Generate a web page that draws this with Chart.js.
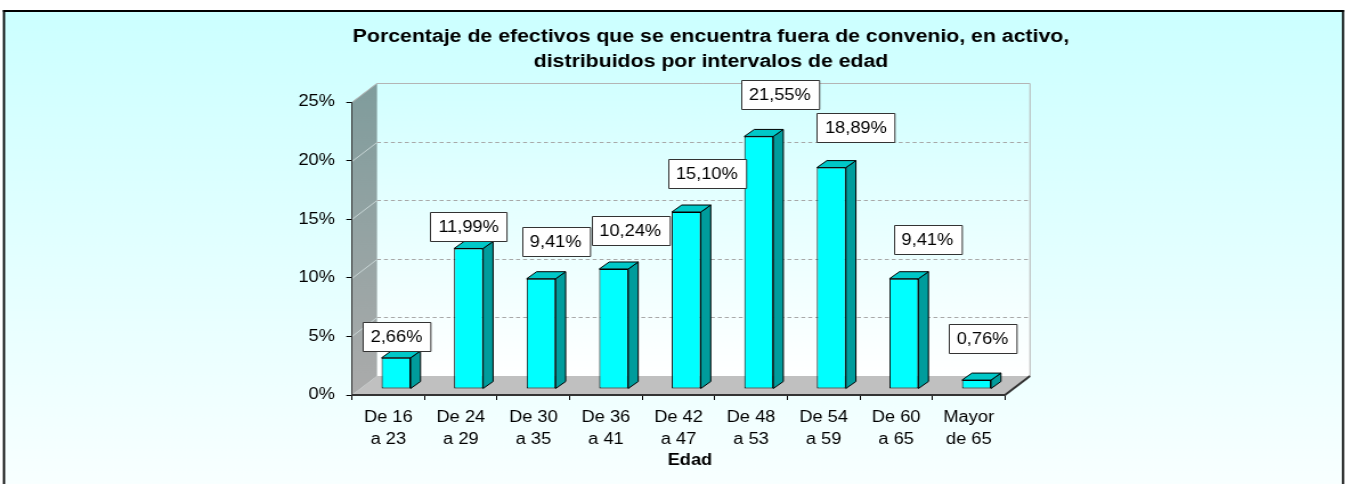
<!DOCTYPE html>
<html><head><meta charset="utf-8">
<script src="https://cdn.jsdelivr.net/npm/chart.js@4"></script>
<style>html,body{margin:0;padding:0;background:#fff;overflow:hidden}
#c{display:block}</style>
</head><body>
<canvas id="c" width="1183" height="484" style="width:1349px;height:484px"></canvas>
<script>
// ---------- data ----------
const categories = [['De 16','a 23'],['De 24','a 29'],['De 30','a 35'],['De 36','a 41'],['De 42','a 47'],['De 48','a 53'],['De 54','a 59'],['De 60','a 65'],['Mayor','de 65']];
const values = [2.66, 11.99, 9.41, 10.24, 15.10, 21.55, 18.89, 9.41, 0.76];
const yTicks = [0, 5, 10, 15, 20, 25];
const titleLines = ['Porcentaje de efectivos que se encuentra fuera de convenio, en activo,', 'distribuidos por intervalos de edad'];
const axisTitle = 'Edad';

// ---------- layout / style ----------
const SX = 1349 / 1183;              // horizontal stretch of the picture
const FONT = '"Liberation Sans", Arial, sans-serif';
const DX = 25 / SX, DY = 19;         // depth of the 3D box
const OX = 7.75 / SX, OY = -6;       // bar front-face offset inside the depth
const BX = 10 / SX, BY = 7;          // bar depth
const labelNudgeX = [0.4, 0, 12.7, 14.5, 18, 18.4, 21.5, 20.6, 5.3];
const labelNudgeY = [-21.3, -21.7, -37, -38.3, -38.2, -41.5, -40.2, -39, -41.1];
const fmt = v => v.toFixed(2).replace('.', ',') + '%';

const threeD = {
  id: 'threeD',
  beforeDraw(chart) {
    const ctx = chart.ctx, a = chart.chartArea, ys = chart.scales.y;
    const W = chart.width, H = chart.height;
    const x0 = 3 / SX, x1 = 1344 / SX;
    ctx.save();
    ctx.fillStyle = '#fff'; ctx.fillRect(0, 0, W, H);
    const g = ctx.createLinearGradient(0, 12, 0, H);
    g.addColorStop(0, '#ccffff'); g.addColorStop(1, '#f8ffff');
    ctx.fillStyle = g; ctx.fillRect(x0, 10, x1 - x0, H);
    // frame
    ctx.fillStyle = '#000';
    ctx.fillRect(x0, 10, x1 - x0, 2);
    ctx.fillRect(x0, 10, 1.8, H);
    ctx.fillRect(x1 - 1.8, 10, 1.8, H);

    const L = a.left, R = a.right, T = a.top, B = a.bottom;
    // back wall
    const gw = ctx.createLinearGradient(0, T - DY, 0, B - DY);
    gw.addColorStop(0, '#d2ffff'); gw.addColorStop(1, '#ffffff');
    ctx.fillStyle = gw;
    ctx.fillRect(L + DX, T - DY, R - L, B - T);
    // side wall
    const gs = ctx.createLinearGradient(0, T - DY, 0, B);
    gs.addColorStop(0, '#7f9c9c'); gs.addColorStop(1, '#ababab');
    ctx.fillStyle = gs;
    ctx.beginPath();
    ctx.moveTo(L, T); ctx.lineTo(L + DX, T - DY); ctx.lineTo(L + DX, B - DY); ctx.lineTo(L, B); ctx.closePath();
    ctx.fill();
    // floor
    ctx.fillStyle = '#c0c0c0';
    ctx.beginPath();
    ctx.moveTo(L, B); ctx.lineTo(R, B); ctx.lineTo(R + DX, B - DY); ctx.lineTo(L + DX, B - DY); ctx.closePath();
    ctx.fill();
    // grid lines
    ctx.lineWidth = 1;
    yTicks.forEach(v => {
      if (v === 0 || v === 25) return;
      const y = Math.round(ys.getPixelForValue(v)) + 0.5;
      ctx.strokeStyle = 'rgba(205,218,218,0.9)';
      ctx.setLineDash([]);
      ctx.beginPath(); ctx.moveTo(L, y); ctx.lineTo(L + DX, y - DY); ctx.stroke();
      ctx.strokeStyle = '#a8a8a8';
      ctx.setLineDash([3.5, 2.6]);
      ctx.beginPath(); ctx.moveTo(L + DX, y - DY); ctx.lineTo(R + DX, y - DY); ctx.stroke();
    });
    ctx.setLineDash([]);
    // wall edges
    ctx.strokeStyle = '#b4b4b4';
    ctx.beginPath();
    ctx.moveTo(L, T + 0.5); ctx.lineTo(L + DX, T - DY + 0.5); ctx.lineTo(R + DX, T - DY + 0.5); ctx.lineTo(R + DX, B - DY);
    ctx.stroke();
    // floor right edge
    ctx.strokeStyle = '#333'; ctx.lineWidth = 2;
    ctx.beginPath(); ctx.moveTo(R, B); ctx.lineTo(R + DX, B - DY); ctx.stroke();
    ctx.restore();
  },
  beforeDatasetsDraw(chart) {
    chart.ctx.save();
    chart.ctx.translate(OX, OY);
  },
  afterDatasetsDraw(chart) {
    const ctx = chart.ctx;
    ctx.restore();
    const meta = chart.getDatasetMeta(0);
    ctx.save();
    ctx.lineWidth = 1; ctx.strokeStyle = '#000'; ctx.lineJoin = 'round';
    meta.data.forEach(el => {
      const p = el.getProps(['x', 'y', 'base', 'width'], true);
      const l = p.x - p.width / 2 + OX, r = p.x + p.width / 2 + OX;
      const t = p.y + OY, b = p.base + OY;
      ctx.fillStyle = '#009c9c';
      ctx.beginPath();
      ctx.moveTo(r, t); ctx.lineTo(r + BX, t - BY); ctx.lineTo(r + BX, b - BY); ctx.lineTo(r, b); ctx.closePath();
      ctx.fill(); ctx.stroke();
      ctx.fillStyle = '#00c8c8';
      ctx.beginPath();
      ctx.moveTo(l, t); ctx.lineTo(l + BX, t - BY); ctx.lineTo(r + BX, t - BY); ctx.lineTo(r, t); ctx.closePath();
      ctx.fill(); ctx.stroke();
    });
    // value labels
    ctx.font = '16px ' + FONT;
    ctx.textAlign = 'center'; ctx.textBaseline = 'middle';
    meta.data.forEach((el, i) => {
      const p = el.getProps(['x', 'y'], true);
      const cx = p.x + OX + labelNudgeX[i], cy = p.y + OY + labelNudgeY[i];
      const txt = fmt(values[i]);
      const w = ctx.measureText(txt).width + 14, h = 29;
      const bx = Math.round(cx - w / 2) + 0.5, by = Math.round(cy - h / 2) + 0.5;
      ctx.fillStyle = '#fff'; ctx.fillRect(bx, by, w, h);
      ctx.strokeStyle = '#333'; ctx.strokeRect(bx, by, w, h);
      ctx.fillStyle = '#000'; ctx.fillText(txt, cx, cy + 1);
    });
    // title
    ctx.font = 'bold 18.67px ' + FONT;
    ctx.textBaseline = 'alphabetic';
    ctx.fillText(titleLines[0], 623.5, 41.5);
    ctx.fillText(titleLines[1], 623.5, 67);
    // axis title
    ctx.font = 'bold 16px ' + FONT;
    ctx.fillText(axisTitle, 605, 465);
    ctx.restore();
  }
};

new Chart(document.getElementById('c'), {
  type: 'bar',
  data: {
    labels: categories,
    datasets: [{
      data: values,
      backgroundColor: '#00ffff',
      borderColor: '#000',
      borderWidth: 1,
      borderSkipped: false,
      barPercentage: 0.4,
      categoryPercentage: 1.0
    }]
  },
  options: {
    responsive: false,
    animation: false,
    devicePixelRatio: 1,
    layout: { padding: { left: 352 / SX - 60, right: 1183 - 1005 / SX, top: 102, bottom: 484 - 395 - 70 } },
    plugins: { legend: { display: false }, title: { display: false }, tooltip: { enabled: false } },
    scales: {
      x: {
        offset: true,
        grid: { offset: true, drawOnChartArea: false, drawTicks: true, tickLength: 5, color: '#000' },
        border: { display: true, color: '#333', width: 2 },
        ticks: { font: { family: FONT, size: 16, lineHeight: 1.375 }, color: '#000', padding: 7, maxRotation: 0, autoSkip: false },
        afterFit: s => { s.height = 70; }
      },
      y: {
        min: 0, max: 25,
        afterBuildTicks: s => { s.ticks = yTicks.map(v => ({ value: v })); },
        ticks: { callback: v => v + '%', font: { family: FONT, size: 16 }, color: '#000', padding: 10 },
        grid: { drawOnChartArea: false, drawTicks: true, tickLength: 5, color: '#000' },
        border: { display: true, color: '#333', width: 1 },
        afterFit: s => { s.width = 60; }
      }
    }
  },
  plugins: [threeD]
});
</script>
</body></html>
